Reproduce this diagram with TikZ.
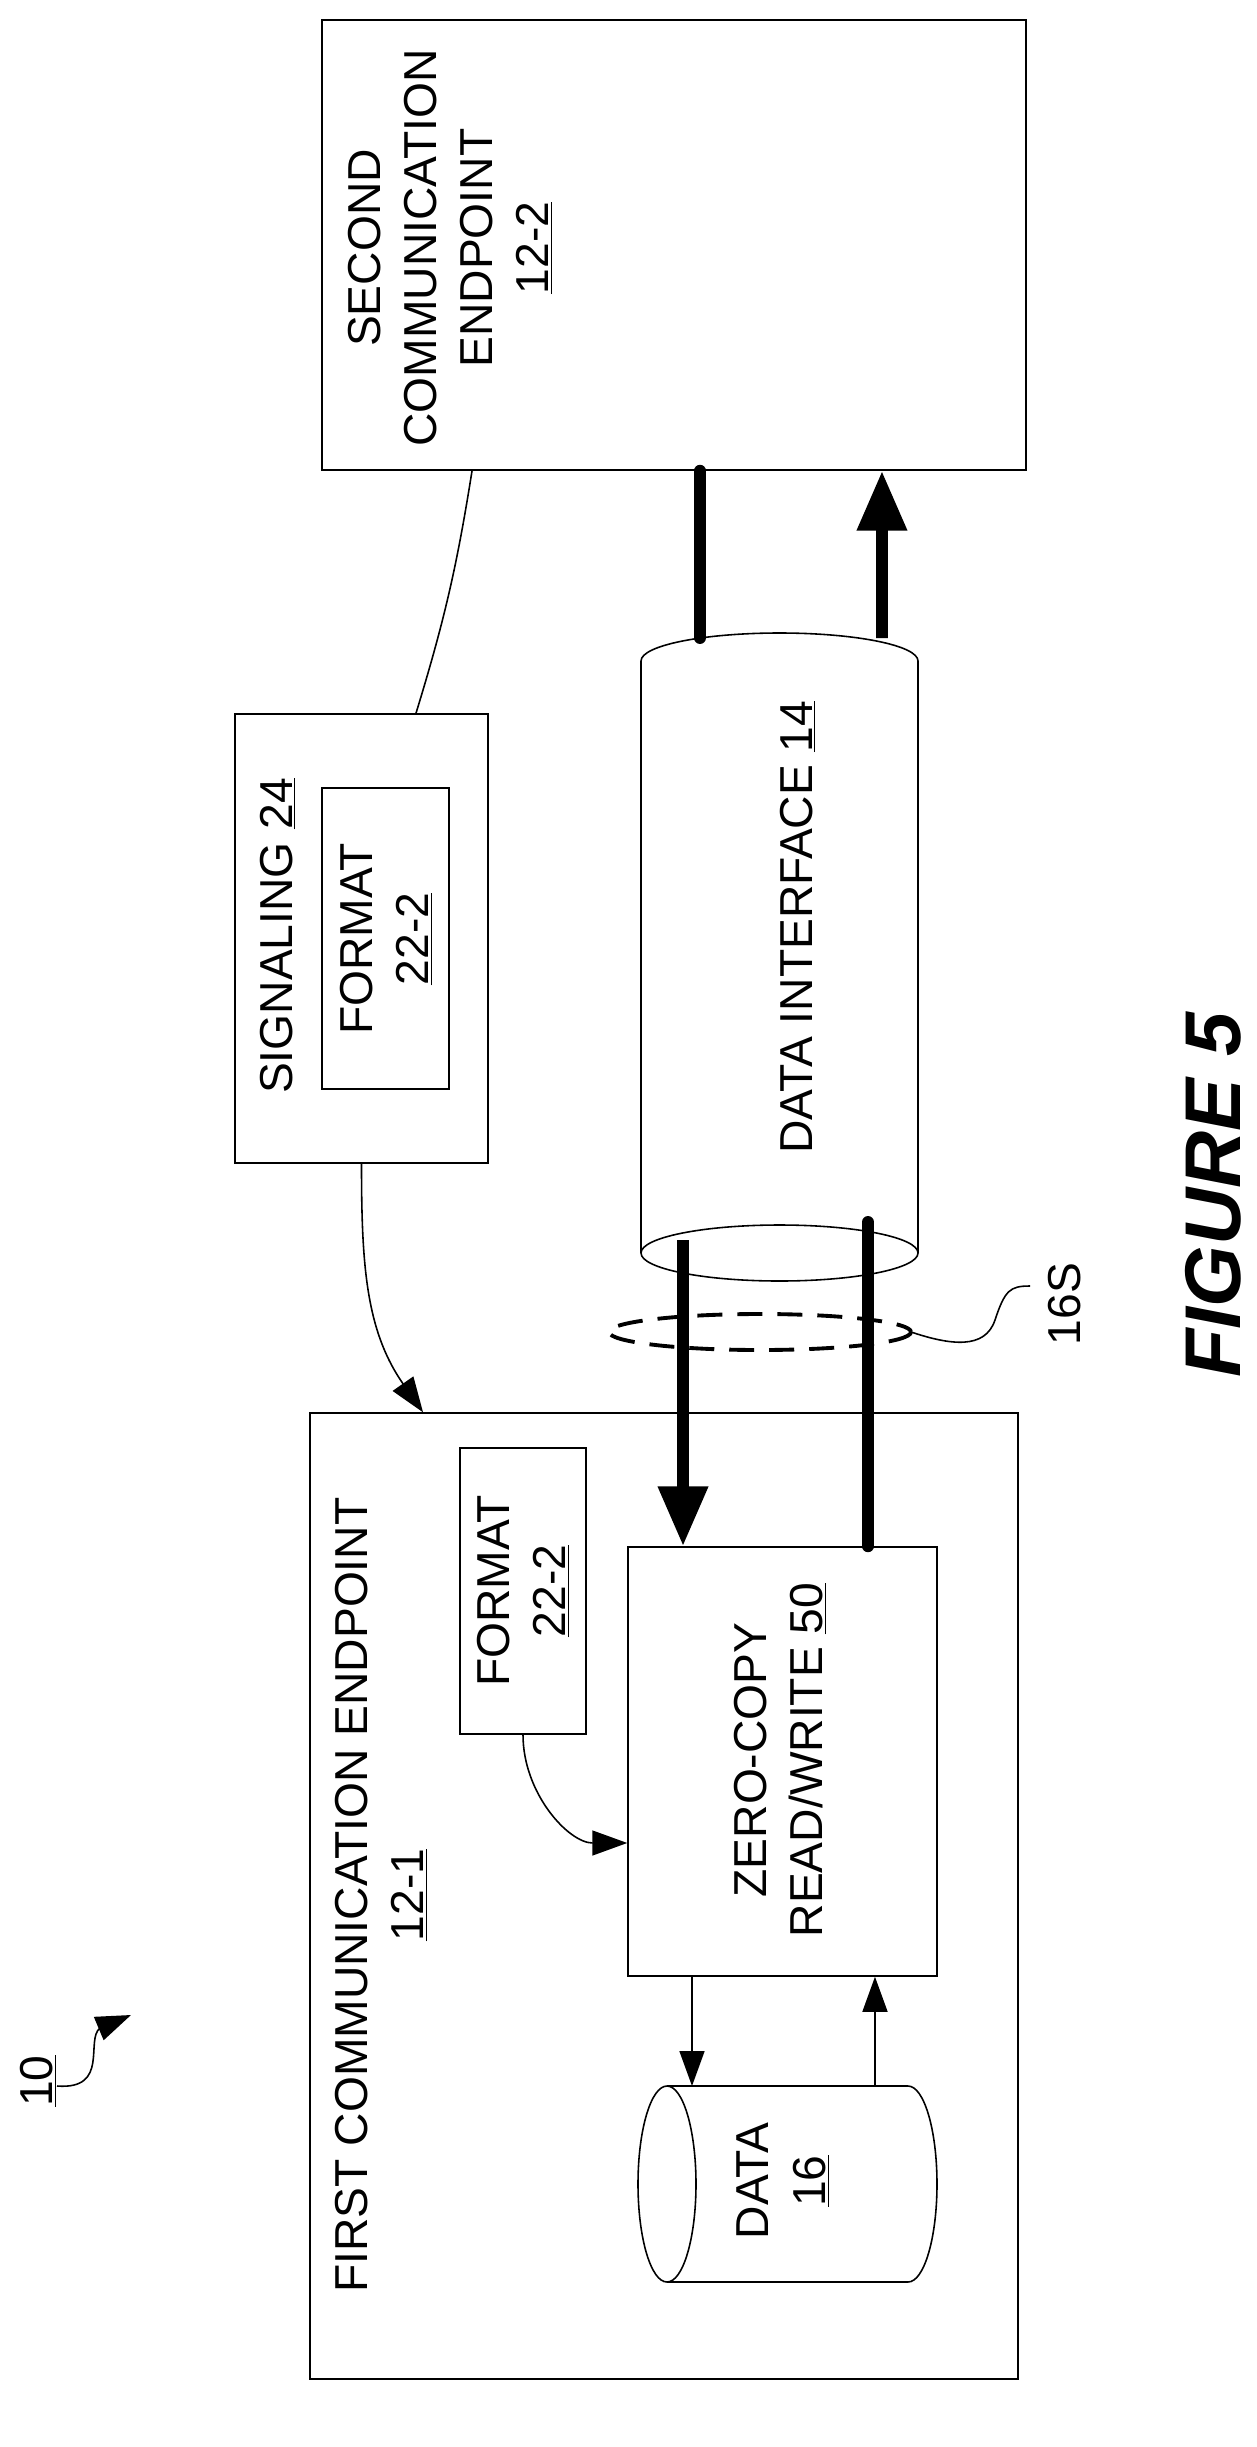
\documentclass[tikz,border=0pt]{standalone}
\usepackage{fontspec}
\setmainfont{Liberation Sans}
\usetikzlibrary{arrows.meta,positioning}
\tikzset{
  box/.style={draw, line width=0.9pt, inner sep=0pt},
  lbl/.style={rotate=90, align=center, font=\fontsize{26.3}{32}\selectfont},
  thin/.style={line width=0.9pt},
  thick bus/.style={line width=6.8pt},
  big tip/.style={-{Triangle[length=1.2cm,width=0.95cm]}},
  small tip/.style={-{Triangle[length=0.7cm,width=0.5cm]}}
}
\begin{document}
\begin{tikzpicture}[x=0.02cm,y=-0.02cm]
  \useasboundingbox (0,0) rectangle (1257,2447);

  % boxes
  \node[box, minimum width=14.08cm, minimum height=9cm] (sec) at (674,245) {};
  \node[box, minimum width=5.06cm, minimum height=8.98cm] (sig) at (361.5,938.5) {};
  \node[box, minimum width=2.54cm, minimum height=6.02cm] (sigfmt) at (385.5,938.5) {};
  \node[box, minimum width=14.16cm, minimum height=19.32cm] (first) at (664,1896) {};
  \node[box, minimum width=2.52cm, minimum height=5.72cm] (fmt) at (523,1591) {};
  \node[box, minimum width=6.18cm, minimum height=8.58cm] (zc) at (782.5,1761.5) {};

  % data interface cylinder
  \draw[thin] (641,1253) -- (641,661) arc[start angle=180, end angle=360, x radius=138.5, y radius=28] -- (918,1253);
  \draw[thin] (779.5,1253) ellipse[x radius=138.5, y radius=28];
  % data cylinder
  \draw[thin] (667,2184) ellipse[x radius=29, y radius=98];
  \draw[thin] (667,2086) -- (908,2086) arc[start angle=-90, end angle=90, x radius=29, y radius=98] -- (667,2282);

  % labels
  \node[lbl] (secl) at (450,248) {SECOND\\COMMUNICATION\\ENDPOINT\\\underline{12-2}};
  \node[lbl] (sigl) at (278,936) {SIGNALING \underline{24}};
  \node[lbl] (sigfmtl) at (386,939) {FORMAT\\\underline{22-2}};
  \node[lbl] (dil) at (798,927) {DATA INTERFACE \underline{14}};
  \node[lbl] (firstl) at (381,1895) {FIRST COMMUNICATION ENDPOINT\\\underline{12-1}};
  \node[lbl] (fmtl) at (523,1591) {FORMAT\\\underline{22-2}};
  \node[lbl] (zcl) at (780,1760) {ZERO-COPY\\READ/WRITE \underline{50}};
  \node[lbl] (datal) at (783,2181) {DATA\\\underline{16}};
  \node[lbl] (ten) at (38,2081) {\underline{10}};
  \node[lbl] (bundle) at (1065,1304) {16S};
  \node[rotate=90, font=\fontsize{45}{50}\selectfont\bfseries\itshape] (fig) at (1213,1195) {FIGURE 5};

  \coordinate (ditop1) at (700,638);
  \coordinate (ditop2) at (882,638);
  \coordinate (dibot1) at (683,1240);
  \coordinate (dibot2) at (868,1222);
  \coordinate (dtop1) at (692,2086);
  \coordinate (dtop2) at (875,2086);

  % signaling
  \draw[thin] ([xshift=1.09cm]sig.north) to[bend right=4] ([xshift=-4.04cm]sec.south);
  \draw[thin, small tip] (sig.south) to[out=-90, in=125] ([xshift=-4.82cm]first.north);
  \draw[thin, small tip] (fmt.south) to[out=-90, in=180] ([yshift=-1.63cm]zc.west);

  % data paths
  \draw[thick bus, line cap=round] (ditop1) -- ([xshift=0.52cm]sec.south);
  \draw[thick bus, big tip] (ditop2) -- ([xshift=4.16cm]sec.south);
  \draw[thick bus, big tip] (dibot1) -- ([xshift=-1.99cm]zc.north);
  \draw[thick bus, line cap=round] ([xshift=1.71cm]zc.north) -- (dibot2);
  \draw[thin, small tip] ([xshift=-1.81cm]zc.south) -- (dtop1);
  \draw[thin, small tip] (dtop2) -- ([xshift=1.85cm]zc.south);

  % bundle ring
  \draw[line width=2.2pt, dash pattern=on 0.5cm off 0.3cm] (760,1332) ellipse[x radius=151, y radius=18];
  \draw[thin] (911,1332) .. controls (950,1345) and (985,1350) .. (995,1320) .. controls (1005,1290) and (1010,1286) .. (1030,1286);

  % reference 10
  \draw[thin, small tip] (57,2086) .. controls (110,2090) and (85,2040) .. (100,2028) -- (131,2015);
\end{tikzpicture}
\end{document}
